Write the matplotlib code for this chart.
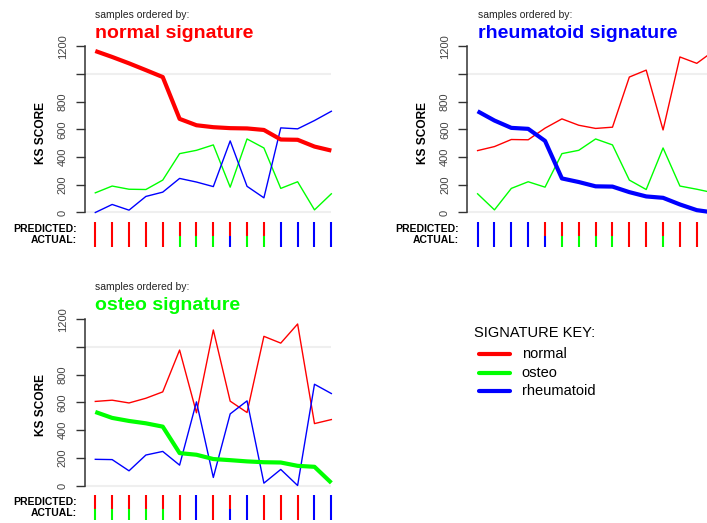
import matplotlib
matplotlib.use('Agg')
import matplotlib.pyplot as plt
import numpy as np

plt.rcParams['font.family'] = ['Liberation Sans', 'DejaVu Sans']

# KS scores of the 15 samples against each signature
normal = [1166, 1123, 1077, 1028, 978, 676, 630, 616, 609, 607, 596, 527, 525, 476, 447]
osteo = [142, 191, 168, 166, 234, 425, 449, 488, 183, 531, 466, 174, 222, 19, 135]
rheumatoid = [0, 58, 17, 116, 147, 246, 220, 187, 517, 189, 106, 611, 604, 664, 731]
predicted = ['normal'] * 11 + ['rheumatoid'] * 4
actual = (['normal'] * 5 + ['osteo', 'osteo', 'osteo', 'rheumatoid', 'osteo', 'osteo']
          + ['rheumatoid'] * 4)

signatures = ['normal', 'osteo', 'rheumatoid']
scores = {'normal': np.array(normal), 'osteo': np.array(osteo),
          'rheumatoid': np.array(rheumatoid)}
colors = {'normal': '#FF0000', 'osteo': '#00FF00', 'rheumatoid': '#0000FF'}
yticks = [0, 200, 400, 600, 800, 1000, 1200]
yticklabels = ['0', '200', '400', '600', '800', '', '1200']

W, H = 707, 523
fig = plt.figure(figsize=(W / 100, H / 100), dpi=100)

# overlay in pixel coordinates for the free text
ov = fig.add_axes([0, 0, 1, 1])
ov.set_xlim(0, W)
ov.set_ylim(H, 0)
ov.axis('off')


def pax(left, top, right, bottom):
    return fig.add_axes([left / W, (H - bottom) / H, (right - left) / W, (bottom - top) / H])


step = 16.86          # pixels per sample
k = 166.2 / 1200      # pixels per KS unit
panels = [('normal', 0, 0), ('rheumatoid', 382.3, 0), ('osteo', 0, 273)]

for sig, dx, dy in panels:
    order = np.argsort(-scores[sig], kind='stable')
    x = np.arange(1, len(order) + 1)
    spine_x, first_x, zero_y = 85 + dx, 95.3 + dx, 212.5 + dy
    x_lo = 1 - (first_x - spine_x) / step
    x_hi = 15.6
    y_lo, y_hi = -40, 1240
    ax = pax(spine_x, zero_y - y_hi * k, spine_x + (x_hi - x_lo) * step, zero_y - y_lo * k)
    ax.set_xlim(x_lo, x_hi)
    ax.set_ylim(y_lo, y_hi)
    ax.patch.set_alpha(0)

    ax.hlines([0, 1000], x_lo, 15, color='#EFEFEF', lw=1.5, zorder=0)
    for s in signatures:
        if s != sig:
            ax.plot(x, scores[s][order], color=colors[s], lw=1.0, zorder=2)
    ax.plot(x, scores[sig][order], color=colors[sig], lw=3.0, zorder=3,
            solid_capstyle='butt', solid_joinstyle='round')

    for side in ['top', 'right', 'bottom']:
        ax.spines[side].set_visible(False)
    ax.spines['left'].set_bounds(0, 1200)
    ax.spines['left'].set_color('#333333')
    ax.spines['left'].set_linewidth(1.1)
    ax.set_xticks([])
    ax.set_yticks(yticks)
    ax.set_yticklabels(yticklabels, rotation=90, va='center', fontsize=8, color='#444444')
    ax.tick_params(axis='y', length=6.5, width=1.0, color='#333333', pad=6)

    # predicted / actual strip
    rax = pax(spine_x, 222 + dy, spine_x + (x_hi - x_lo) * step, 247 + dy)
    rax.set_xlim(x_lo, x_hi)
    rax.set_ylim(0, 1)
    rax.axis('off')
    rax.vlines(x, 0.46, 1, colors=[colors[predicted[i]] for i in order], lw=1.5)
    rax.vlines(x, 0, 0.46, colors=[colors[actual[i]] for i in order], lw=1.5)

    ov.text(77 + dx, 229 + dy, 'PREDICTED:', ha='right', va='center',
            fontsize=7.5, fontweight='bold')
    ov.text(77 + dx, 240 + dy, 'ACTUAL:', ha='right', va='center',
            fontsize=7.5, fontweight='bold')
    ov.text(41 + dx, 132.5 + dy, 'KS SCORE', rotation=90, ha='center', va='center',
            fontsize=8.6, fontweight='bold')
    ov.text(first_x, 17.5 + dy, 'samples ordered by:', ha='left', va='baseline',
            fontsize=7.5, color='#222222')
    ov.text(first_x, 37.5 + dy, sig + ' signature', ha='left', va='baseline',
            fontsize=14, fontweight='bold', color=colors[sig])

# signature key
ov.text(474, 333, 'SIGNATURE KEY:', ha='left', va='center', fontsize=10.5)
for s, yy in zip(signatures, [354.3, 372.7, 390.7]):
    ov.plot([479, 510], [yy, yy], color=colors[s], lw=3.0, solid_capstyle='round')
    ov.text(521.7, yy, s, ha='left', va='center', fontsize=10.5)

fig.savefig('out.png', dpi=100)
